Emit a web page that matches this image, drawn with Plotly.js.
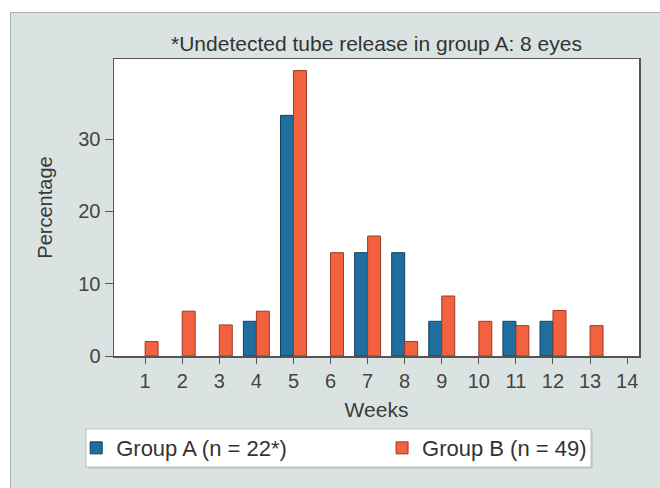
<!DOCTYPE html>
<html>
<head>
<meta charset="utf-8">
<script src="https://cdn.plot.ly/plotly-3.0.1.min.js"></script>
<style>
  html, body { margin: 0; padding: 0; background: #ffffff; width: 660px; height: 488px; overflow: hidden; }
  #panel { position: absolute; left: 10px; top: 12px; width: 650px; height: 476px;
           border-left: 1px solid #a7b1af; border-top: 1px solid #a7b1af; background: #dae3e1; }
  #chart { position: absolute; left: 0; top: 0; width: 650px; height: 476px; }
</style>
</head>
<body>
<div id="panel"><div id="chart"></div></div>
<script>
const weeks = [1, 2, 3, 4, 5, 6, 7, 8, 9, 10, 11, 12, 13, 14];
const groupA = [null, null, null, 4.8, 33.3, null, 14.3, 14.3, 4.8, null, 4.8, 4.8, null, null];
const groupB = [2.0, 6.2, 4.3, 6.2, 39.5, 14.3, 16.6, 2.0, 8.3, 4.8, 4.2, 6.3, 4.2, null];
const yTicks = [0, 10, 20, 30];
const seriesNames = ['Group A (n = 22*)', 'Group B (n = 49)'];
const titleText = '*Undetected tube release in group A: 8 eyes';

const fontFam = 'Liberation Sans, Arial, sans-serif';

const traces = [
  { type: 'bar', x: weeks, y: groupA, name: seriesNames[0], legend: 'legend',
    marker: { color: '#1f6e9d', line: { color: '#123f5c', width: 1 } } },
  { type: 'bar', x: weeks, y: groupB, name: seriesNames[1], legend: 'legend2',
    marker: { color: '#f2623e', line: { color: '#9c3b25', width: 1 } } }
];

const legendCommon = {
  orientation: 'h', xanchor: 'left', yanchor: 'middle', y: -0.31,
  bgcolor: 'rgba(0,0,0,0)', borderwidth: 0,
  font: { size: 22, color: '#333333' }, itemwidth: 30
};

const layout = {
  width: 650, height: 476,
  margin: { l: 103, r: 22, t: 46, b: 133, pad: 0 },
  paper_bgcolor: 'rgba(0,0,0,0)',
  plot_bgcolor: '#ffffff',
  barmode: 'group', bargap: 0.3, bargroupgap: 0,
  font: { family: fontFam, color: '#3a3a3a', size: 20 },
  title: { text: titleText, font: { family: fontFam, size: 21, color: '#333333' },
           x: 0.5, xref: 'paper', xanchor: 'center', y: 0.935, yref: 'container', yanchor: 'middle' },
  xaxis: {
    range: [0.16, 14.32], tickmode: 'array', tickvals: weeks, ticktext: weeks.map(String),
    showline: true, linecolor: '#555555', linewidth: 1.5, mirror: true,
    ticks: 'outside', ticklen: 6, tickcolor: '#555555', tickwidth: 1,
    showgrid: false, zeroline: false,
    tickfont: { size: 20, color: '#444444' },
    title: { text: 'Weeks', font: { size: 21, color: '#3a3a3a' }, standoff: 12 }
  },
  yaxis: {
    range: [0, 41.1], tickmode: 'array', tickvals: yTicks, ticktext: yTicks.map(String),
    showline: true, linecolor: '#555555', linewidth: 1.5, mirror: true,
    ticks: 'outside', ticklen: 8, tickcolor: '#555555', tickwidth: 1,
    showgrid: false, zeroline: false,
    tickfont: { size: 20, color: '#444444' },
    title: { text: 'Percentage', font: { size: 20, color: '#3a3a3a' }, standoff: 20 }
  },
  showlegend: true,
  legend: Object.assign({}, legendCommon, { x: -0.072 }),
  legend2: Object.assign({}, legendCommon, { x: 0.5106 }),
  shapes: [
    { type: 'rect', xref: 'paper', yref: 'paper', x0: -0.0495, x1: 0.9124, y0: -0.3804, y1: -0.2525,
      fillcolor: '#c4cccb', line: { width: 0 }, layer: 'above' },
    { type: 'rect', xref: 'paper', yref: 'paper', x0: -0.0533, x1: 0.9086, y0: -0.3737, y1: -0.2458,
      fillcolor: '#ffffff', line: { color: '#b9c1bf', width: 1 }, layer: 'above' }
  ]
};

Plotly.newPlot('chart', traces, layout, { displayModeBar: false, staticPlot: true });
</script>
</body>
</html>
